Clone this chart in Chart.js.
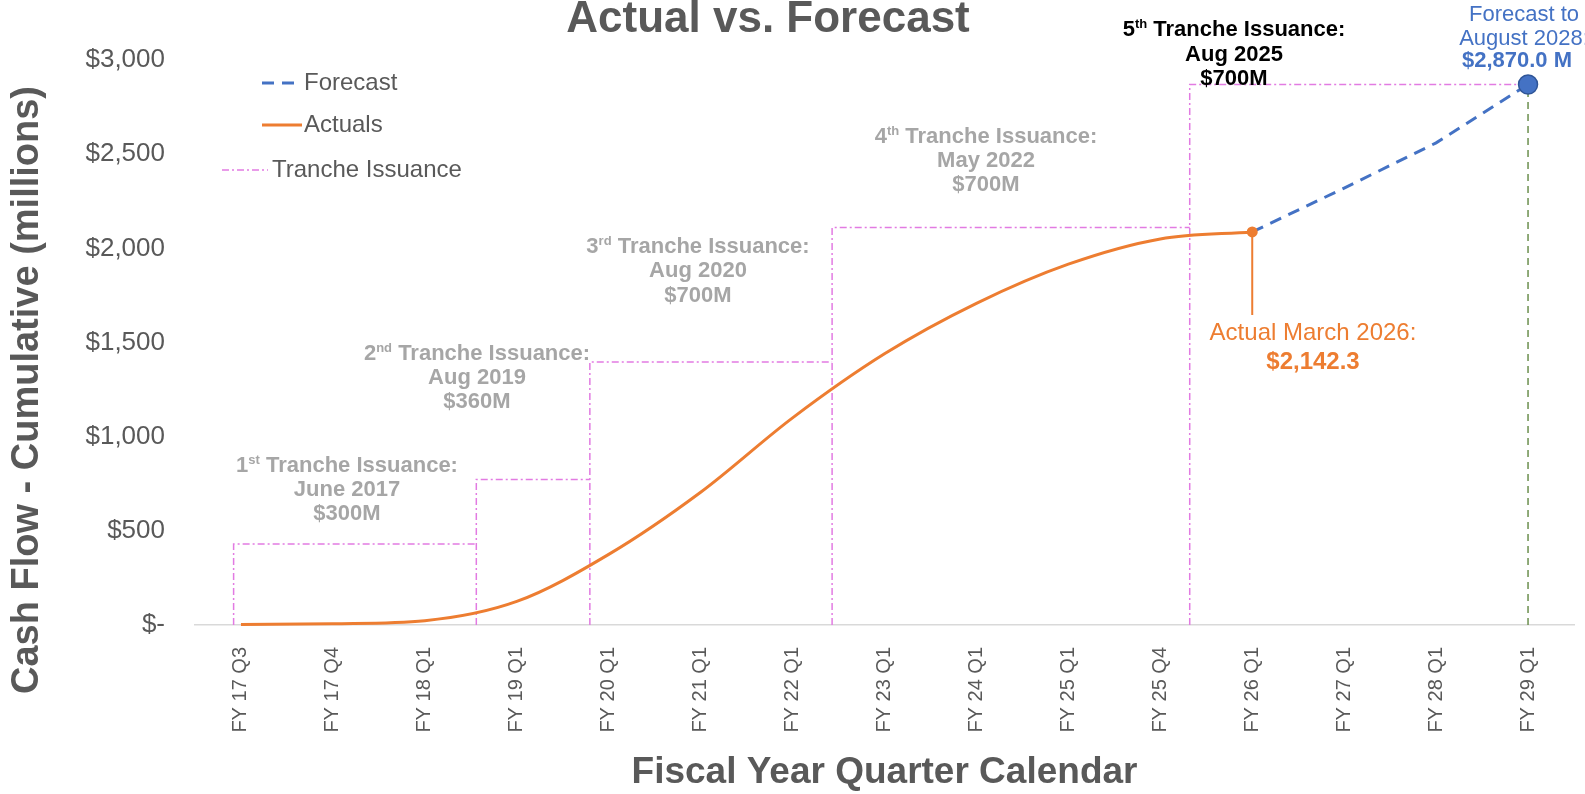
<!DOCTYPE html>
<html>
<head>
<meta charset="utf-8">
<script src="https://cdn.jsdelivr.net/npm/chart.js@4.4.1/dist/chart.umd.min.js"></script>
<style>
html,body{margin:0;padding:0;background:#ffffff;overflow:hidden}
#wrap{width:1585px;height:794px;position:relative}
</style>
</head>
<body>
<div id="wrap"><canvas id="c" width="1585" height="794"></canvas></div>
<script>
// ---------------- data ----------------
const categories = ['FY 17 Q3','FY 17 Q4','FY 18 Q1','FY 19 Q1','FY 20 Q1','FY 21 Q1','FY 22 Q1','FY 23 Q1','FY 24 Q1','FY 25 Q1','FY 25 Q4','FY 26 Q1','FY 27 Q1','FY 28 Q1','FY 29 Q1'];
const actuals = [2, 7, 23, 125, 375, 705, 1100, 1440, 1708, 1916, 2050, 2087];
const forecastIdx = [11, 12, 13, 14];
const forecast = [2087, 2320, 2560, 2870];
const trancheX = [-0.08, 2.56, 3.795, 6.43, 10.32];
const trancheLevel = [430, 773, 1397, 2110, 2870];
const trancheEndIdx = 14;
const trancheOrdinal = ['1', '2', '3', '4', '5'];
const trancheSuffix = ['st', 'nd', 'rd', 'th', 'th'];
const trancheDate = ['June 2017', 'Aug 2019', 'Aug 2020', 'May 2022', 'Aug 2025'];
const trancheAmount = ['$300M', '$360M', '$700M', '$700M', '$700M'];
const yTickValues = [0, 500, 1000, 1500, 2000, 2500, 3000];
const yTickLabels = ['$-', '$500', '$1,000', '$1,500', '$2,000', '$2,500', '$3,000'];
const actualLabel = ['Actual March 2026:', '$2,142.3'];
const forecastLabel = ['Forecast to', 'August 2028:', '$2,870.0 M'];

// ---------------- styles ----------------
const FONT = "'Liberation Sans', Arial, Helvetica, sans-serif";
const GRAY = '#595959';
const LIGHT = '#A6A6A6';
const ORANGE = '#ED7D31';
const BLUE = '#4472C4';
const MAGENTA = '#E27BE2';
const GREEN = '#6B8F4E';

// build datasets from arrays
const actualData = actuals.map((v, i) => ({x: i, y: v}));
const forecastData = forecastIdx.map((ix, i) => ({x: ix, y: forecast[i]}));
const trancheData = [];
trancheX.forEach((x, i) => {
  const next = i < trancheX.length - 1 ? trancheX[i + 1] : trancheEndIdx;
  trancheData.push({x: x, y: 0}, {x: x, y: trancheLevel[i]}, {x: next, y: trancheLevel[i]}, {x: next, y: null});
});
const forecastEnd = forecast[forecast.length - 1];
const dropData = [{x: trancheEndIdx, y: 0}, {x: trancheEndIdx, y: forecastEnd}];

const trancheTextPos = [
  {cx: 347, b: [472, 496, 520], color: LIGHT},
  {cx: 477, b: [360, 384, 408], color: LIGHT},
  {cx: 698, b: [253, 277, 302], color: LIGHT},
  {cx: 986, b: [143, 167, 191], color: LIGHT},
  {cx: 1234, b: [36, 61, 85], color: '#000000'}
];

function drawOrdinal(ctx, cx, base, num, sup, rest, size, color) {
  const big = 'bold ' + size + 'px ' + FONT;
  const small = 'bold ' + Math.round(size * 0.6) + 'px ' + FONT;
  ctx.font = big;
  const w1 = ctx.measureText(num).width;
  const w3 = ctx.measureText(rest).width;
  ctx.font = small;
  const w2 = ctx.measureText(sup).width;
  let x = cx - (w1 + w2 + w3) / 2;
  ctx.fillStyle = color;
  ctx.textAlign = 'left';
  ctx.textBaseline = 'alphabetic';
  ctx.font = big; ctx.fillText(num, x, base); x += w1;
  ctx.font = small; ctx.fillText(sup, x, base - size * 0.36); x += w2;
  ctx.font = big; ctx.fillText(rest, x, base);
}

const decorPlugin = {
  id: 'decor',
  afterDraw(chart) {
    const ctx = chart.ctx;
    const xs = chart.scales.x, ys = chart.scales.y;
    ctx.save();
    // title
    ctx.fillStyle = GRAY;
    ctx.font = 'bold 44px ' + FONT;
    ctx.textAlign = 'center';
    ctx.textBaseline = 'alphabetic';
    ctx.fillText('Actual vs. Forecast', 768, 32);
    // y axis title
    ctx.save();
    ctx.translate(28, 390);
    ctx.rotate(-Math.PI / 2);
    ctx.font = 'bold 38px ' + FONT;
    ctx.textBaseline = 'middle';
    ctx.fillStyle = GRAY;
    ctx.fillText('Cash Flow - Cumulative (millions)', 0, 0);
    ctx.restore();
    // legend
    const ds = chart.data.datasets;
    const legendRows = [
      {d: ds[0], x0: 262, x1: 299, tx: 304, y: 83},
      {d: ds[1], x0: 262, x1: 302, tx: 304, y: 125},
      {d: ds[2], x0: 222, x1: 268, tx: 272, y: 170}
    ];
    legendRows.forEach(r => {
      ctx.save();
      ctx.strokeStyle = r.d.borderColor;
      ctx.lineWidth = r.d.borderWidth;
      ctx.setLineDash(r.d.borderDash || []);
      ctx.beginPath(); ctx.moveTo(r.x0, r.y); ctx.lineTo(r.x1, r.y); ctx.stroke();
      ctx.restore();
      ctx.fillStyle = GRAY;
      ctx.font = '24px ' + FONT;
      ctx.textAlign = 'left';
      ctx.textBaseline = 'middle';
      ctx.fillText(r.d.label, r.tx, r.y);
    });
    // tranche notes
    trancheTextPos.forEach((p, i) => {
      drawOrdinal(ctx, p.cx, p.b[0], trancheOrdinal[i], trancheSuffix[i], ' Tranche Issuance:', 22, p.color);
      ctx.font = 'bold 22px ' + FONT;
      ctx.textAlign = 'center';
      ctx.textBaseline = 'alphabetic';
      ctx.fillStyle = p.color;
      ctx.fillText(trancheDate[i], p.cx, p.b[1]);
      ctx.fillText(trancheAmount[i], p.cx, p.b[2]);
    });
    // actual leader + label
    const lastI = actuals.length - 1;
    const px = xs.getPixelForValue(lastI);
    const py = ys.getPixelForValue(actuals[lastI]);
    ctx.strokeStyle = ORANGE;
    ctx.lineWidth = 2;
    ctx.setLineDash([]);
    ctx.beginPath(); ctx.moveTo(px, py); ctx.lineTo(px, 315); ctx.stroke();
    ctx.fillStyle = ORANGE;
    ctx.textAlign = 'center';
    ctx.textBaseline = 'alphabetic';
    ctx.font = '24px ' + FONT;
    ctx.fillText(actualLabel[0], 1313, 340);
    ctx.font = 'bold 24px ' + FONT;
    ctx.fillText(actualLabel[1], 1313, 369);
    // forecast label
    ctx.fillStyle = BLUE;
    ctx.font = '22px ' + FONT;
    ctx.fillText(forecastLabel[0], 1524, 21);
    ctx.fillText(forecastLabel[1], 1524, 45);
    ctx.font = 'bold 22px ' + FONT;
    ctx.fillText(forecastLabel[2], 1517, 67);
    ctx.restore();
  }
};

const chart = new Chart(document.getElementById('c'), {
  type: 'line',
  data: {
    datasets: [
      {
        label: 'Forecast',
        data: forecastData,
        borderColor: BLUE,
        backgroundColor: BLUE,
        borderWidth: 3,
        borderDash: [12, 8],
        pointRadius: (c) => c.dataIndex === forecastData.length - 1 ? 9.5 : 0,
        pointBackgroundColor: BLUE,
        pointBorderColor: '#2F5597',
        pointBorderWidth: 1.5,
        tension: 0,
        clip: false,
        order: 1
      },
      {
        label: 'Actuals',
        data: actualData,
        borderColor: ORANGE,
        backgroundColor: ORANGE,
        borderWidth: 3,
        cubicInterpolationMode: 'monotone',
        pointRadius: (c) => c.dataIndex === actualData.length - 1 ? 4 : 0,
        pointBackgroundColor: ORANGE,
        pointBorderColor: ORANGE,
        clip: false,
        order: 0
      },
      {
        label: 'Tranche Issuance',
        data: trancheData,
        borderColor: MAGENTA,
        backgroundColor: MAGENTA,
        borderWidth: 1.5,
        borderDash: [7, 3, 2, 3],
        pointRadius: 0,
        tension: 0,
        spanGaps: false,
        clip: false,
        order: 3
      },
      {
        label: 'Forecast end',
        data: dropData,
        borderColor: GREEN,
        borderWidth: 1.5,
        borderDash: [7, 5],
        pointRadius: 0,
        tension: 0,
        clip: false,
        order: 4
      }
    ]
  },
  options: {
    responsive: false,
    animation: false,
    events: [],
    layout: {padding: {top: 60, left: 0, right: 0, bottom: 0}},
    plugins: {legend: {display: false}, tooltip: {enabled: false}, title: {display: false}},
    scales: {
      x: {
        type: 'linear',
        min: -0.5,
        max: categories.length - 0.5,
        afterBuildTicks: (s) => { s.ticks = categories.map((_, i) => ({value: i})); },
        afterFit: (s) => { s.height = 169; },
        grid: {display: false},
        border: {display: true, color: '#D9D9D9', width: 1.5},
        ticks: {
          autoSkip: false,
          maxRotation: 90,
          minRotation: 90,
          padding: 14,
          color: GRAY,
          font: {family: FONT, size: 20},
          callback: (v) => categories[v]
        },
        title: {
          display: true,
          text: 'Fiscal Year Quarter Calendar',
          color: GRAY,
          font: {family: FONT, size: 37, weight: 'bold', lineHeight: 1},
          padding: {top: 0, bottom: 3}
        }
      },
      y: {
        type: 'linear',
        min: 0,
        max: 3000,
        afterBuildTicks: (s) => { s.ticks = yTickValues.map(v => ({value: v})); },
        afterFit: (s) => { s.width = 195; },
        grid: {display: false},
        border: {display: false},
        ticks: {
          padding: 22,
          color: GRAY,
          font: {family: FONT, size: 26},
          callback: (v) => yTickLabels[yTickValues.indexOf(v)]
        }
      }
    }
  },
  plugins: [decorPlugin]
});
</script>
</body>
</html>
